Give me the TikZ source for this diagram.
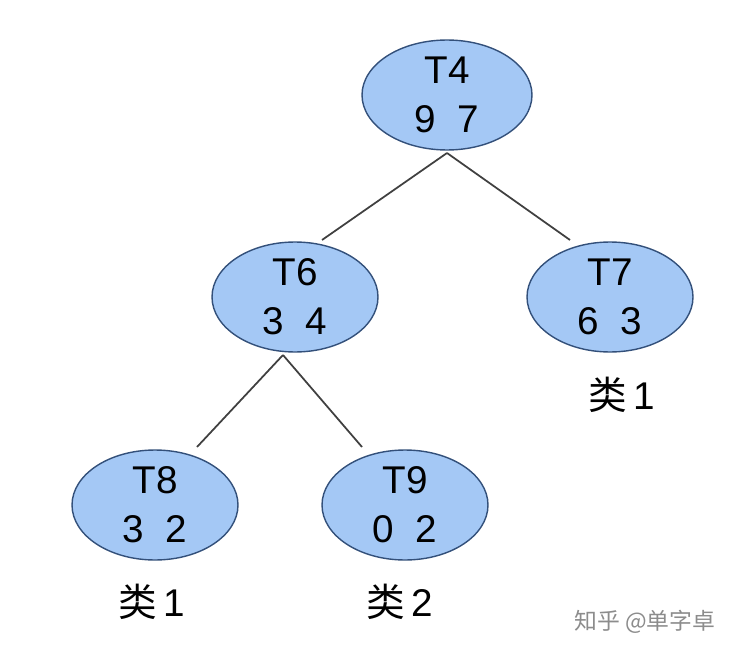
\documentclass[tikz,border=0pt]{standalone}
\usepackage{fontspec}
\usetikzlibrary{shapes.geometric}
\setmainfont{Liberation Sans}
\newfontfamily\cjk{Noto Sans CJK SC}
\definecolor{nodefill}{HTML}{A4C8F5}
\definecolor{nodeline}{HTML}{33507A}
\begin{document}
\begin{tikzpicture}[x=0.02cm,y=-0.02cm,
  tn/.style={ellipse,draw=nodeline,line width=0.8pt,fill=nodefill,minimum width=3.32cm,minimum height=2.2cm,align=center,font=\fontsize{22}{28}\selectfont,inner sep=0pt},
  edge/.style={draw=black!75,line width=1pt},
  lab/.style={font=\fontsize{22}{26}\selectfont}]
\useasboundingbox (0,0) rectangle (730,652);
\node[tn,minimum width=3.4cm] (t4) at (447,95) {T4\\9\ \ 7};
\node[tn] (t6) at (295,297) {T6\\3\ \ 4};
\node[tn] (t7) at (610,297) {T7\\6\ \ 3};
\node[tn] (t8) at (155,505) {T8\\3\ \ 2};
\node[tn] (t9) at (405,505) {T9\\0\ \ 2};
\coordinate (a) at (447,153);
\coordinate (b) at (283,355);
\coordinate (a1) at (322,240);
\coordinate (a2) at (570,240);
\coordinate (b1) at (197,447);
\coordinate (b2) at (362,447);
\draw[edge] (a) -- (a1);
\draw[edge] (a) -- (a2);
\draw[edge] (b) -- (b1);
\draw[edge] (b) -- (b2);
\node[lab] (l7) at (622,395) {{\cjk 类}\,1};
\node[lab] (l8) at (152,602) {{\cjk 类}\,1};
\node[lab] (l9) at (400,602) {{\cjk 类}\,2};
\node[font=\fontsize{13}{15}\selectfont\cjk,text=black!45] (wm) at (645,622) {知乎 @单字卓};
\end{tikzpicture}
\end{document}
